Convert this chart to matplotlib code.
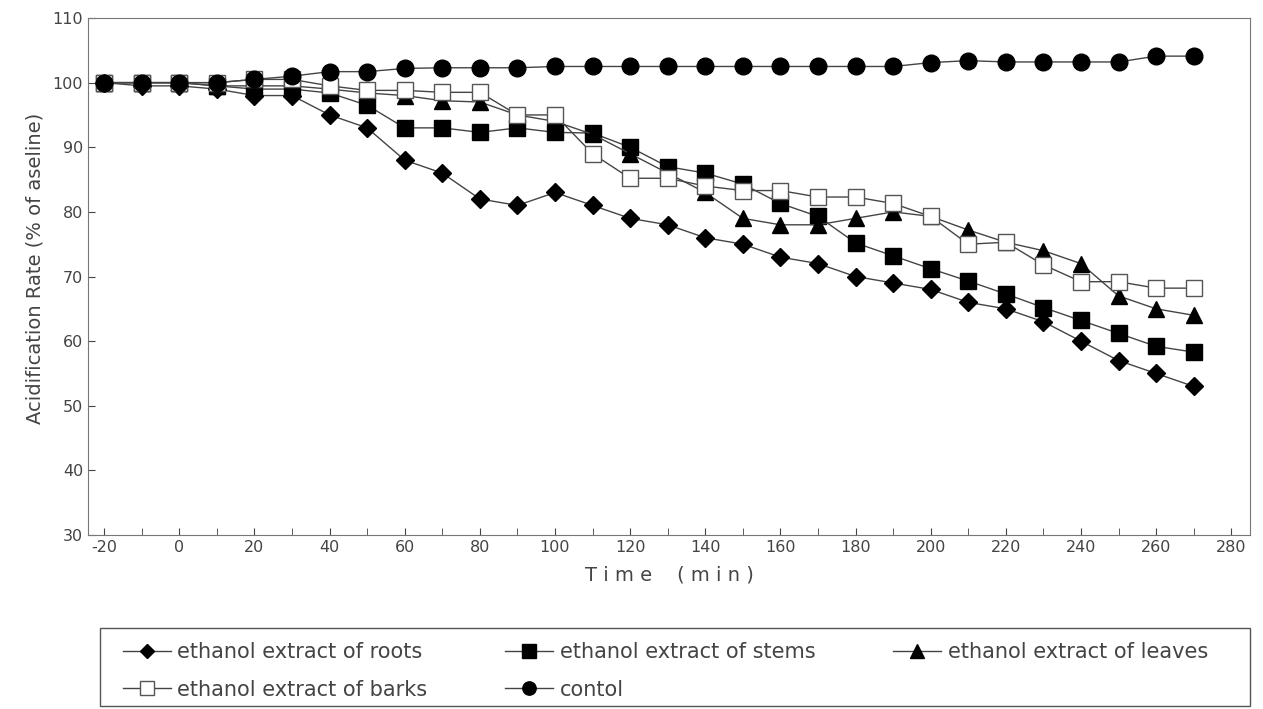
import numpy as np
import matplotlib.pyplot as plt
from matplotlib.patches import Rectangle

time = [-20, -10, 0, 10, 20, 30, 40, 50, 60, 70, 80, 90, 100, 110, 120, 130, 140,
        150, 160, 170, 180, 190, 200, 210, 220, 230, 240, 250, 260, 270]

roots = [100, 99.5, 99.5, 99, 98, 98, 95, 93, 88, 86, 82, 81, 83, 81, 79, 78, 76,
         75, 73, 72, 70, 69, 68, 66, 65, 63, 60, 57, 55, 53]
stems = [100, 100, 100, 99.5, 99, 99, 98.4, 96.5, 93, 93, 92.3, 93, 92.3, 92.2, 90, 87, 86,
         84.3, 81.3, 79.3, 75.2, 73.2, 71.2, 69.3, 67.3, 65.2, 63.2, 61.2, 59.2, 58.3]
leaves = [100, 100, 100, 99.5, 99.5, 99.5, 99, 98.4, 98, 97.2, 97, 95, 94, 92, 89, 86, 83,
          79, 78, 78, 79, 80, 79.3, 77.2, 75.3, 74, 72, 67, 65, 64]
barks = [100, 100, 100, 100, 100.5, 100.5, 99.5, 98.8, 98.8, 98.5, 98.5, 95, 95, 89, 85.2, 85.2, 84,
         83.3, 83.3, 82.3, 82.3, 81.3, 79.3, 75, 75.3, 71.8, 69.2, 69.2, 68.2, 68.2]
contol = [100, 100, 100, 100, 100.5, 101, 101.7, 101.7, 102.2, 102.3, 102.3, 102.3, 102.5, 102.5, 102.5, 102.5, 102.5,
          102.5, 102.5, 102.5, 102.5, 102.5, 103.1, 103.4, 103.2, 103.2, 103.2, 103.2, 104.1, 104.1]

labels = ["ethanol extract of roots", "ethanol extract of stems", "ethanol extract of leaves",
          "ethanol extract of barks", "contol"]

text_color = "#444444"
line_color = "#444444"

plt.rcParams['font.family'] = ['DejaVu Sans']
plt.rcParams['axes.unicode_minus'] = False

fig = plt.figure(figsize=(12.63, 7.09), dpi=100)
ax = fig.add_axes([0.0697, 0.2454, 0.92, 0.7292])

common = dict(color=line_color, linewidth=1.0, markeredgecolor="black")
h_roots, = ax.plot(time, roots, marker="D", markersize=9, markerfacecolor="black", label=labels[0], **common)
h_stems, = ax.plot(time, stems, marker="s", markersize=12, markerfacecolor="black", label=labels[1], **common)
h_leaves, = ax.plot(time, leaves, marker="^", markersize=12, markerfacecolor="black", label=labels[2], **common)
h_barks, = ax.plot(time, barks, marker="s", markersize=12, markerfacecolor="white",
                   color=line_color, linewidth=1.0, markeredgecolor="#555555", markeredgewidth=1.0,
                   label=labels[3])
h_contol, = ax.plot(time, contol, marker="o", markersize=12, markerfacecolor="black", label=labels[4], **common)

ax.set_xlim(-24.3, 285)
ax.set_ylim(30, 110)
ax.set_xticks(np.arange(-20, 281, 20))
ax.set_xticks(np.arange(-20, 281, 10), minor=True)
ax.set_yticks(np.arange(30, 111, 10))
ax.tick_params(direction="in", colors=text_color, labelsize=11.5, length=5)
ax.tick_params(which="minor", direction="in", length=5, color=text_color)
for s in ax.spines.values():
    s.set_color("#777777")

ax.set_xlabel("T i m e    ( m i n )", color=text_color, fontsize=14, labelpad=8)
ax.set_ylabel("Acidification Rate (% of aseline)", color=text_color, fontsize=14, labelpad=6)
ax.yaxis.label.set_y(0.515)

# row-wise order like the original legend
order = [h_roots, h_barks, h_stems, h_contol, h_leaves]
leg = fig.legend(handles=order, labels=[h.get_label() for h in order],
                 loc="upper left", bbox_to_anchor=(123 / 1263, 1 - 642 / 709),
                 ncol=3, frameon=False, fontsize=15, markerscale=0.8,
                 handlelength=2.3, handletextpad=0.3, borderaxespad=0, borderpad=0,
                 labelspacing=0.85, columnspacing=3.75)
for t in leg.get_texts():
    t.set_color(text_color)

fig.patches.append(Rectangle((100 / 1263, 1 - 706 / 709), 1150 / 1263, 78 / 709,
                             transform=fig.transFigure, fill=False, edgecolor="#555555", linewidth=1.0))

fig.savefig("out.png", dpi=100)
